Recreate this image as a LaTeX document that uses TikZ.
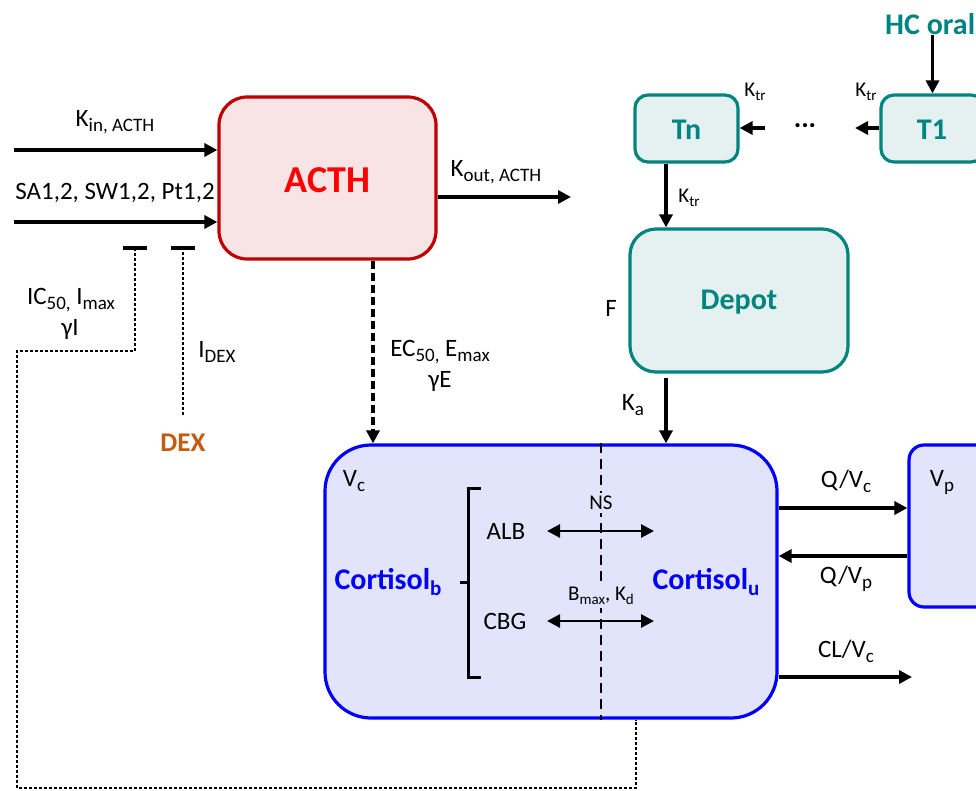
\documentclass[tikz,border=0pt]{standalone}
\usepackage{fontspec}
\setmainfont{Carlito}
\usetikzlibrary{arrows.meta}
\definecolor{acthfill}{HTML}{F8E4E4}
\definecolor{acthdraw}{HTML}{C00000}
\definecolor{acthtext}{HTML}{FF0000}
\definecolor{tealc}{HTML}{008480}
\definecolor{tealfill}{HTML}{E4F1F0}
\definecolor{cortblue}{HTML}{0000FF}
\definecolor{cortfill}{HTML}{E2E4FC}
\definecolor{dexc}{HTML}{C55A11}
\newcommand{\sbx}[2]{\raisebox{-0.2em}{\fontsize{#1}{#1}\selectfont #2}}
\tikzset{
  lab/.style={font=\fontsize{25}{28}\selectfont, inner sep=1pt, align=center},
  smalllab/.style={font=\fontsize{21}{23}\selectfont, inner sep=1pt},
  boldlab/.style={font=\fontsize{30}{32}\selectfont\bfseries, inner sep=0pt},
  acthbox/.style={draw=acthdraw, fill=acthfill, line width=3.2pt, rounded corners=28pt},
  tealbox/.style={draw=tealc, fill=tealfill, line width=3.2pt},
  cortbox/.style={draw=cortblue, fill=cortfill, line width=3.2pt},
  flow/.style={line width=3.2pt, -{Triangle[length=13pt,width=13pt]}},
  dflow/.style={line width=2.8pt, {Triangle[length=13pt,width=13pt]}-{Triangle[length=13pt,width=13pt]}},
  dots/.style={line width=2.8pt, dash pattern=on 2.6pt off 2.4pt},
  inhbar/.style={line width=3.2pt},
}
\begin{document}
\begin{tikzpicture}[x=1pt,y=-1pt]
\useasboundingbox (0,0) rectangle (976,790);
\clip (0,0) rectangle (976,790);

% boxes
\node[acthbox, minimum width=217pt, minimum height=162pt] (acth) at (327.5,178) {};
\node[font=\fontsize{38}{40}\selectfont\bfseries, text=acthtext] (acthlab) at (327.5,180) {ACTH};

\node[tealbox, rounded corners=13pt, minimum width=103pt, minimum height=67pt] (tn) at (686.5,128.5) {};
\node[boldlab, text=tealc] (tnlab) at (686.5,130) {Tn};
\node[tealbox, rounded corners=13pt, minimum width=103pt, minimum height=67pt] (t1) at (932.5,128.5) {};
\node[boldlab, text=tealc] (t1lab) at (932,130) {T1};
\node[tealbox, rounded corners=26pt, minimum width=218pt, minimum height=143pt] (depot) at (739,300.5) {};
\node[boldlab, text=tealc] (depotlab) at (739,302) {Depot};
\node[boldlab, text=tealc, anchor=west] (hc) at (885,24) {HC oral};

\node[cortbox, rounded corners=46pt, minimum width=452pt, minimum height=273pt] (cort) at (551,581.5) {};
\node[cortbox, rounded corners=15pt, minimum width=110pt, minimum height=162pt] (vp) at (964,526) {};

% divider in cortisol box
\draw[line width=2.6pt, dash pattern=on 10pt off 6pt] (cort.north -| 601,0) -- (cort.south -| 601,0);

% inputs to ACTH
\coordinate (kinstart) at (14,150);
\coordinate (sastart) at (14,222);
\draw[flow] (kinstart) -- (kinstart -| acth.west);
\draw[flow] (sastart) -- (sastart -| acth.west);
\node[lab] (kinlab) at (115,122) {K\sbx{19}{in, ACTH}};
\node[lab] (salab) at (115,193) {SA1,2, SW1,2, Pt1,2};

% K_out
\coordinate (koutend) at (571,197);
\draw[flow] (koutend -| acth.east) -- (koutend);
\node[lab] (koutlab) at (496,172) {K\sbx{19}{out, ACTH}};

% feedback inhibition from cortisol
\coordinate (icbar) at (135,248);
\coordinate (cortfb) at (636,788);
\draw[inhbar] (123,248) -- (147,248);
\draw[dots] (icbar) -- (135,351) -- (17,351) -- (17,788) -- (cortfb) -- (cortfb |- cort.south);
\node[lab] (iclab) at (71,300) {IC\sbx{19}{50,} I\sbx{19}{max}};
\node[lab] (gilab) at (70,329) {γI};

% DEX inhibition
\node[font=\fontsize{27}{29}\selectfont\bfseries, text=dexc, inner sep=0pt] (dex) at (183,443) {DEX};
\coordinate (dexbar) at (183,248);
\draw[inhbar] (171,248) -- (195,248);
\draw[dots] (183,415) -- (dexbar);
\node[lab] (idexlab) at (217,352) {I\sbx{19}{DEX}};

% ACTH -> cortisol stimulation
\draw[line width=3.2pt, dash pattern=on 8pt off 4pt, -{Triangle[length=13pt,width=13pt]}] (acth.south -| 373,0) -- (cort.north -| 373,0);
\node[lab] (eclab) at (440,352) {EC\sbx{19}{50,} E\sbx{19}{max}};
\node[lab] (gelab) at (440,381) {γE};

% transit chain
\draw[flow] (hc.south -| t1.north) -- (t1.north);
\coordinate (d1) at (855,128);
\coordinate (d2) at (765,128);
\draw[flow] (d1 -| t1.west) -- (d1);
\node[font=\fontsize{28}{30}\selectfont\bfseries, inner sep=0pt] (ell) at (805,126) {...};
\draw[flow] (d2) -- (d2 -| tn.east);
\node[smalllab] (ktr1) at (755,92) {K\sbx{15}{tr}};
\node[smalllab] (ktr2) at (866,92) {K\sbx{15}{tr}};
\draw[flow] (tn.south -| 666,0) -- (depot.north -| 666,0);
\node[smalllab] (ktr3) at (689,198) {K\sbx{15}{tr}};
\node[lab] (flab) at (611,308) {F};
\draw[flow, shorten <=4pt] (depot.south -| 666,0) -- (cort.north -| 666,0);
\node[lab] (kalab) at (633,405) {K\sbx{19}{a}};

% inside cortisol box
\node[lab] (vclab) at (354,481) {V\sbx{19}{c}};
\node[boldlab, text=cortblue] (cb) at (388,582) {Cortisol\sbx{21}{b}};
\node[boldlab, text=cortblue] (cu) at (706,582) {Cortisol\sbx{21}{u}};
\draw[line width=3pt] (481,488) -- (468,488) -- (468,677) -- (481,677);
\draw[line width=3pt] (468,582) -- (460,582);
\node[lab] (alb) at (506,531) {ALB};
\node[lab] (cbg) at (505,621) {CBG};
\coordinate (albl) at (547,531);
\coordinate (albr) at (654,531);
\coordinate (cbgl) at (547,621);
\coordinate (cbgr) at (654,621);
\draw[dflow] (albl) -- (albr);
\draw[dflow] (cbgl) -- (cbgr);
\node[smalllab, fill=cortfill, inner sep=3pt] (ns) at (601,503) {NS};
\node[smalllab, fill=cortfill, inner sep=3pt] (bmax) at (601,596) {B\sbx{15}{max}, K\sbx{15}{d}};

% peripheral exchange and clearance
\coordinate (qvc) at (0,508);
\coordinate (qvp) at (0,556);
\draw[flow] (qvc -| cort.east) -- (qvc -| vp.west);
\draw[flow] (qvp -| vp.west) -- (qvp -| cort.east);
\coordinate (clend) at (912,677);
\draw[flow] (clend -| cort.east) -- (clend);
\node[lab] (qvclab) at (846,481) {Q/V\sbx{19}{c}};
\node[lab] (qvplab) at (846,579) {Q/V\sbx{19}{p}};
\node[lab] (cllab) at (846,651) {CL/V\sbx{19}{c}};
\node[lab] (vplab) at (942,483) {V\sbx{19}{p}};
\end{tikzpicture}
\end{document}
